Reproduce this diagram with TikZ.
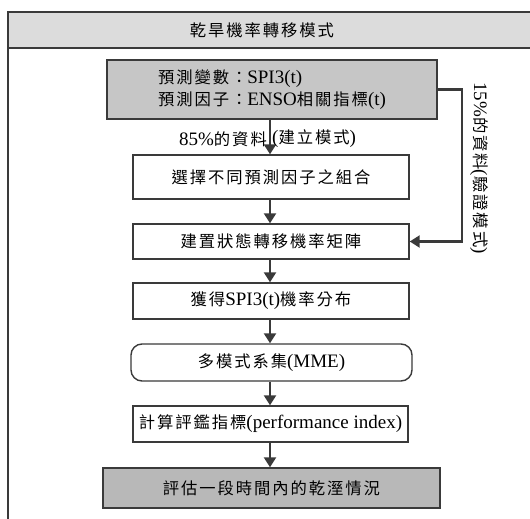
\documentclass[tikz,border=0pt]{standalone}
\usepackage{fontspec}
\setmainfont{Liberation Serif}
\newfontfamily\cjkfont[LetterSpace=12]{Noto Sans CJK TC}
\newcommand\zh[1]{{\cjkfont\fontsize{16.3}{19}\selectfont #1}}
\usetikzlibrary{arrows.meta}
\definecolor{frameline}{HTML}{3A3A3A}
\definecolor{headfill}{HTML}{DCDCDC}
\definecolor{greyfill}{HTML}{C6C6C6}
\definecolor{darkfill}{HTML}{B8B8B8}
\tikzset{
  box/.style={draw=frameline, line width=1.4pt, fill=white, inner sep=0pt,
    font=\fontsize{19}{22}\selectfont, text=black},
  arr/.style={draw=frameline, line width=2.2pt, -{Triangle[width=12pt,length=10pt]}},
  lbl/.style={font=\fontsize{19}{22}\selectfont, inner sep=1pt}
}
\begin{document}
\begin{tikzpicture}[x=1pt,y=-1pt]
\useasboundingbox (0,0) rectangle (530,519);
% frame and header
\fill[headfill] (8,12) rectangle (530,48);
\draw[frameline, line width=1.4pt] (530,12) -- (8,12) -- (8,519);
\draw[frameline, line width=1.4pt] (8,48) -- (530,48);
\node[lbl] (head) at (262,30) {\zh{乾旱機率轉移模式}};
% boxes
\node[box, fill=greyfill, minimum width=330pt, minimum height=59pt, align=left] (b1) at (272,89.5)
  {\zh{預測變數：}SPI3(t)\\\zh{預測因子：}ENSO\zh{相關指標}(t)};
\node[box, minimum width=276pt, minimum height=44pt] (b2) at (271,177) {\zh{選擇不同預測因子之組合}};
\node[box, minimum width=276pt, minimum height=35pt] (b3) at (271,241.5) {\zh{建置狀態轉移機率矩陣}};
\node[box, minimum width=276pt, minimum height=36pt] (b4) at (271,301) {\zh{獲得}SPI3(t)\zh{機率分布}};
\node[box, rounded corners=11pt, minimum width=281pt, minimum height=37pt] (b5) at (271.5,362.5) {\zh{多模式系集}(MME)};
\node[box, minimum width=275pt, minimum height=36pt] (b6) at (270.5,424) {\zh{計算評鑑指標}(performance index)};
\node[box, fill=darkfill, minimum width=337pt, minimum height=40pt] (b7) at (271.5,488) {\zh{評估一段時間內的乾溼情況}};
% arrows
\draw[arr] (b1.south -| 270,0) -- (b2.north -| 270,0) coordinate[pos=0.5] (m1);
\draw[arr] (b2.south -| 270,0) -- (b3.north -| 270,0);
\draw[arr] (b3.south -| 270,0) -- (b4.north -| 270,0);
\draw[arr] (b4.south -| 270,0) -- (b5.north -| 270,0);
\draw[arr] (b5.south -| 270,0) -- (b6.north -| 270,0);
\draw[arr] (b6.south -| 270,0) -- (b7.north -| 270,0);
\draw[arr] (b1.east) -- (462,89.5) |- (b3.east);
% labels
\node[lbl, anchor=east] (l85) at ([xshift=-2pt,yshift=-2pt]m1) {85\%\zh{的資料}};
\node[lbl, anchor=west] (lbuild) at ([xshift=1pt,yshift=-2pt]m1) {(\zh{建立模式})};
\node[lbl, rotate=-90] (l15) at (479,168) {15\%\zh{的資料}(\zh{驗證模式})};
\end{tikzpicture}
\end{document}
